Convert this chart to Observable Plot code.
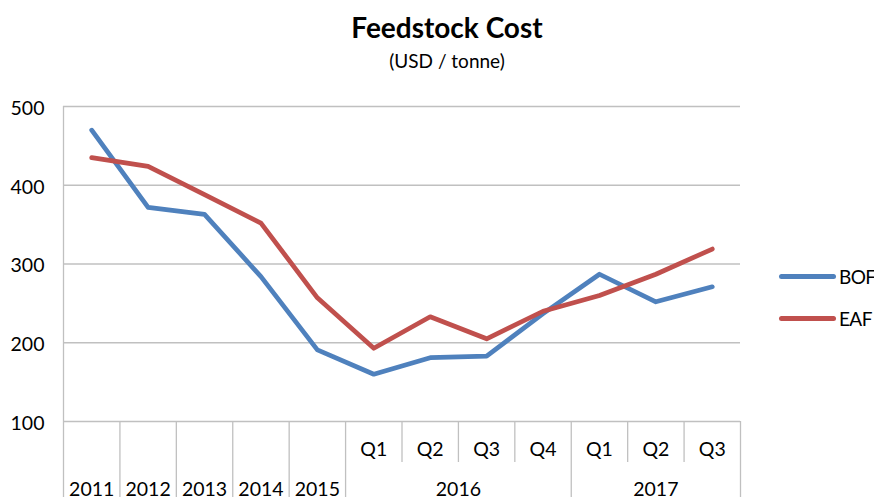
<!DOCTYPE html>
<html><head><meta charset="utf-8">
<script src="https://cdn.jsdelivr.net/npm/d3@7"></script>
<script src="https://cdn.jsdelivr.net/npm/@observablehq/plot@0.6"></script>
<style>
body{margin:0;background:#fff;font-family:Lato,sans-serif;color:#000}
#wrap{position:relative;width:874px;height:497px;overflow:hidden;background:#fff}
#head{position:relative;height:90px}
.ttl{position:absolute;left:10px;width:874px;text-align:center;white-space:nowrap}
.leg{position:absolute;left:779px;height:24px;display:flex;align-items:center;font-size:19px;letter-spacing:-0.6px}
.leg span.sw{display:inline-block;width:57px;height:5px;border-radius:2.5px;margin-right:3px}
</style></head><body>
<div id="wrap">
  <div id="head">
    <div class="ttl" style="top:11px;font-size:28px;line-height:32px;font-weight:700">Feedstock Cost</div>
    <div class="ttl" style="top:49.5px;font-size:19px;line-height:22px">(USD / tonne)</div>
  </div>
  <div id="chart"></div>
  <div id="legend"></div>
</div>
<script>
const periods = ["2011","2012","2013","2014","2015","Q1","Q2","Q3","Q4","Q1","Q2","Q3"];
const years   = ["2011","2012","2013","2014","2015","2016","2016","2016","2016","2017","2017","2017"];
const bof = [470,372,363,284,191,160,181,183,237,287,252,271];
const eaf = [435,424,388,352,257,193,233,205,240,260,287,319];
const yTicks = [100,200,300,400,500];
const seriesNames = ["BOF","EAF"];
const seriesColors = ["#4F81BD","#C0504D"];

const n = periods.length;
const rows = periods.map((p,i)=>({i, period:p, year:years[i]}));
const long = [];
seriesNames.forEach((s,k)=>{
  const vals = k===0 ? bof : eaf;
  vals.forEach((v,i)=>long.push({i, series:s, value:v}));
});
const quarterRows = rows.filter(r=>r.period!==r.year);
const yearGroups = d3.groups(rows, r=>r.year).map(([y,rs])=>({year:y, mid:d3.mean(rs, r=>r.i)}));
const fullDiv = [], qDiv = [];
rows.forEach((r,i)=>{
  if (i===0 || years[i]!==years[i-1]) fullDiv.push(i-0.5); else qDiv.push(i-0.5);
});
fullDiv.push(n-0.5);

const gridColor = "#c0c0c0";
const chart = Plot.plot({
  width:874, height:407,
  marginTop:16, marginBottom:76, marginLeft:63, marginRight:134,
  style:{fontFamily:"Lato, sans-serif", fontSize:"19.5px", color:"#000", background:"transparent", display:"block"},
  x:{type:"linear", domain:[-0.5, n-0.5], axis:null},
  y:{domain:[100,500], axis:null},
  color:{domain:seriesNames, range:seriesColors},
  marks:[
    Plot.ruleY(yTicks, {stroke:gridColor, strokeWidth:1.3}),
    Plot.ruleX([fullDiv[0]], {stroke:gridColor, strokeWidth:1.3}),
    Plot.axisX({ticks:fullDiv, tickSize:76, tickFormat:()=>"", stroke:gridColor, strokeWidth:1.3}),
    Plot.axisX({ticks:qDiv, tickSize:41, tickFormat:()=>"", stroke:gridColor, strokeWidth:1.3}),
    Plot.axisY({ticks:yTicks, tickSize:0, tickPadding:19, label:null, dy:2, tickFormat:d=>String(d)}),
    Plot.text(quarterRows, {x:"i", text:"period", frameAnchor:"bottom", dy:34, fill:"#000"}),
    Plot.text(yearGroups, {x:"mid", text:"year", frameAnchor:"bottom", dy:74, fill:"#000"}),
    Plot.line(long, {x:"i", y:"value", z:"series", stroke:"series", strokeWidth:4.7, strokeLinecap:"round", strokeLinejoin:"round"})
  ]
});
document.getElementById("chart").appendChild(chart);

const legTops = [264, 306.5];
const leg = document.getElementById("legend");
seriesNames.forEach((s,k)=>{
  const d = document.createElement("div");
  d.className = "leg";
  d.style.top = legTops[k] + "px";
  d.innerHTML = `<span class="sw" style="background:${seriesColors[k]}"></span><span>${s}</span>`;
  leg.appendChild(d);
});
</script>
</body></html>
